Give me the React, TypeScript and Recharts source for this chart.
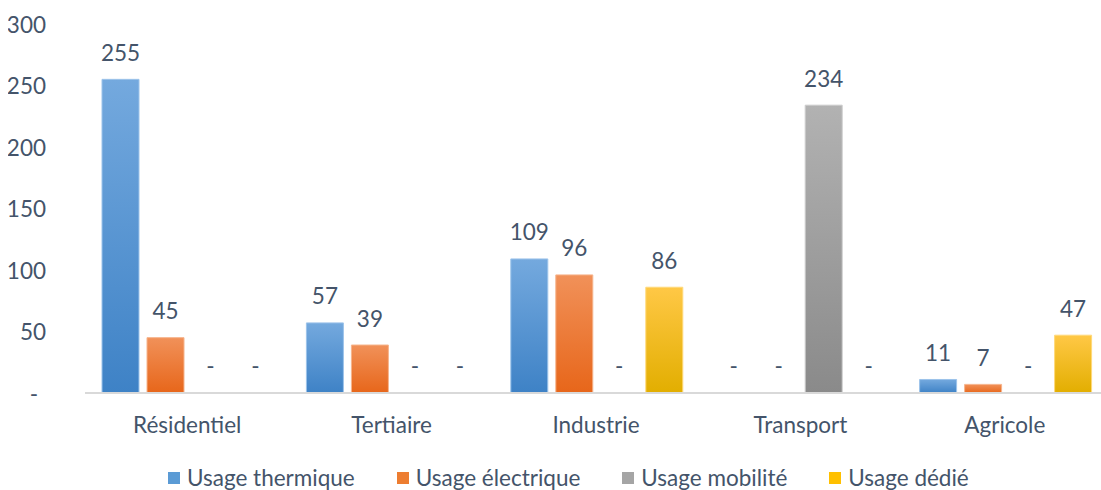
import React from "react";
import { BarChart, Bar, XAxis, YAxis, LabelList, Rectangle } from "recharts";

const categories = ["Résidentiel", "Tertiaire", "Industrie", "Transport", "Agricole"];
const thermique = [255, 57, 109, 0, 11];
const electrique = [45, 39, 96, 0, 7];
const mobilite = [0, 0, 0, 234, 0];
const dedie = [0, 0, 86, 0, 47];
const yTicks = [0, 50, 100, 150, 200, 250, 300];

const series = [
  { key: "thermique", name: "Usage thermique", values: thermique, top: "#74A9DE", bottom: "#3E82C6", stroke: "#9CC3EA", legend: "#5B9BD5" },
  { key: "electrique", name: "Usage électrique", values: electrique, top: "#F19159", bottom: "#E7661A", stroke: "#F6B48C", legend: "#ED7D31" },
  { key: "mobilite", name: "Usage mobilité", values: mobilite, top: "#B2B2B2", bottom: "#8A8A8A", stroke: "#CCCCCC", legend: "#A5A5A5" },
  { key: "dedie", name: "Usage dédié", values: dedie, top: "#FFC846", bottom: "#E2AE00", stroke: "#FFD97A", legend: "#FFC000" },
];

const data = categories.map((c, i) => {
  const row: any = { category: c };
  series.forEach((s) => (row[s.key] = s.values[i]));
  return row;
});

const TEXT = "#44546A";
const FONT = "Lato, 'Noto Sans', sans-serif";
const FS = 22.5;

const YTick = (props: any) => {
  const { x, y, payload } = props;
  const isZero = payload.value === 0;
  return (
    <text x={isZero ? x - 8 : x} y={y} textAnchor="end" dominantBaseline="central" fill={TEXT} fontSize={FS} fontFamily={FONT}>
      {isZero ? "-" : payload.value}
    </text>
  );
};

const XTick = (props: any) => {
  const { x, y, payload } = props;
  return (
    <text x={x} y={y} textAnchor="middle" dominantBaseline="central" fill={TEXT} fontSize={FS} fontFamily={FONT}>
      {payload.value}
    </text>
  );
};

const BarLabel = (props: any) => {
  const { x, y, width, height, value } = props;
  const top = Math.min(y, y + height);
  const isZero = value === 0 || value === undefined || value === null;
  return (
    <text x={x + width / 2} y={top - 27} textAnchor="middle" dominantBaseline="central" fill={TEXT} fontSize={FS} fontFamily={FONT}>
      {isZero ? "-" : value}
    </text>
  );
};

const makeShape = (key: string) => (props: any) => {
  if (!props.payload || props.payload[key] === 0) return <g />;
  return <Rectangle {...props} />;
};

export default function App() {
  return (
    <div style={{ position: "absolute", left: 8, top: 8, width: 1093, height: 482, overflow: "hidden", background: "#fff" }}>
      <BarChart
        width={1100}
        height={500}
        data={data}
        margin={{ top: 16, right: 1, left: 0, bottom: 90 }}
        barCategoryGap={17}
        barGap={8}
      >
        <defs>
          {series.map((s) => (
            <linearGradient key={s.key} id={`g-${s.key}`} x1="0" y1="0" x2="0" y2="1">
              <stop offset="0%" stopColor={s.top} />
              <stop offset="100%" stopColor={s.bottom} />
            </linearGradient>
          ))}
        </defs>
        <YAxis
          width={77}
          domain={[0, 300]}
          ticks={yTicks}
          axisLine={false}
          tickLine={false}
          tickSize={0}
          tickMargin={39}
          tick={<YTick />}
          interval={0}
        />
        <XAxis
          dataKey="category"
          axisLine={{ stroke: "#D9D9D9", strokeWidth: 2 }}
          tickLine={false}
          tickSize={0}
          tickMargin={31}
          height={25}
          tick={<XTick />}
          interval={0}
        />
        {series.map((s) => (
          <Bar
            key={s.key}
            dataKey={s.key}
            name={s.name}
            fill={`url(#g-${s.key})`}
            stroke={s.stroke}
            strokeWidth={1}
            minPointSize={(v: any) => (v === 0 ? 0.5 : 0)}
            shape={makeShape(s.key)}
            isAnimationActive={false}
          >
            <LabelList dataKey={s.key} content={<BarLabel />} />
          </Bar>
        ))}
      </BarChart>
      <div
        style={{
          position: "absolute",
          left: 160,
          top: 458,
          height: 24,
          lineHeight: "22px",
          display: "flex",
          alignItems: "center",
          fontFamily: FONT,
          fontSize: FS,
          color: TEXT,
          whiteSpace: "nowrap",
        }}
      >
        {series.map((s, i) => (
          <div key={s.key} style={{ display: "flex", alignItems: "center", marginRight: i < series.length - 1 ? 42 : 0 }}>
            <span style={{ display: "inline-block", width: 12, height: 12, background: s.legend, marginRight: 7 }} />
            <span>{s.name}</span>
          </div>
        ))}
      </div>
    </div>
  );
}
